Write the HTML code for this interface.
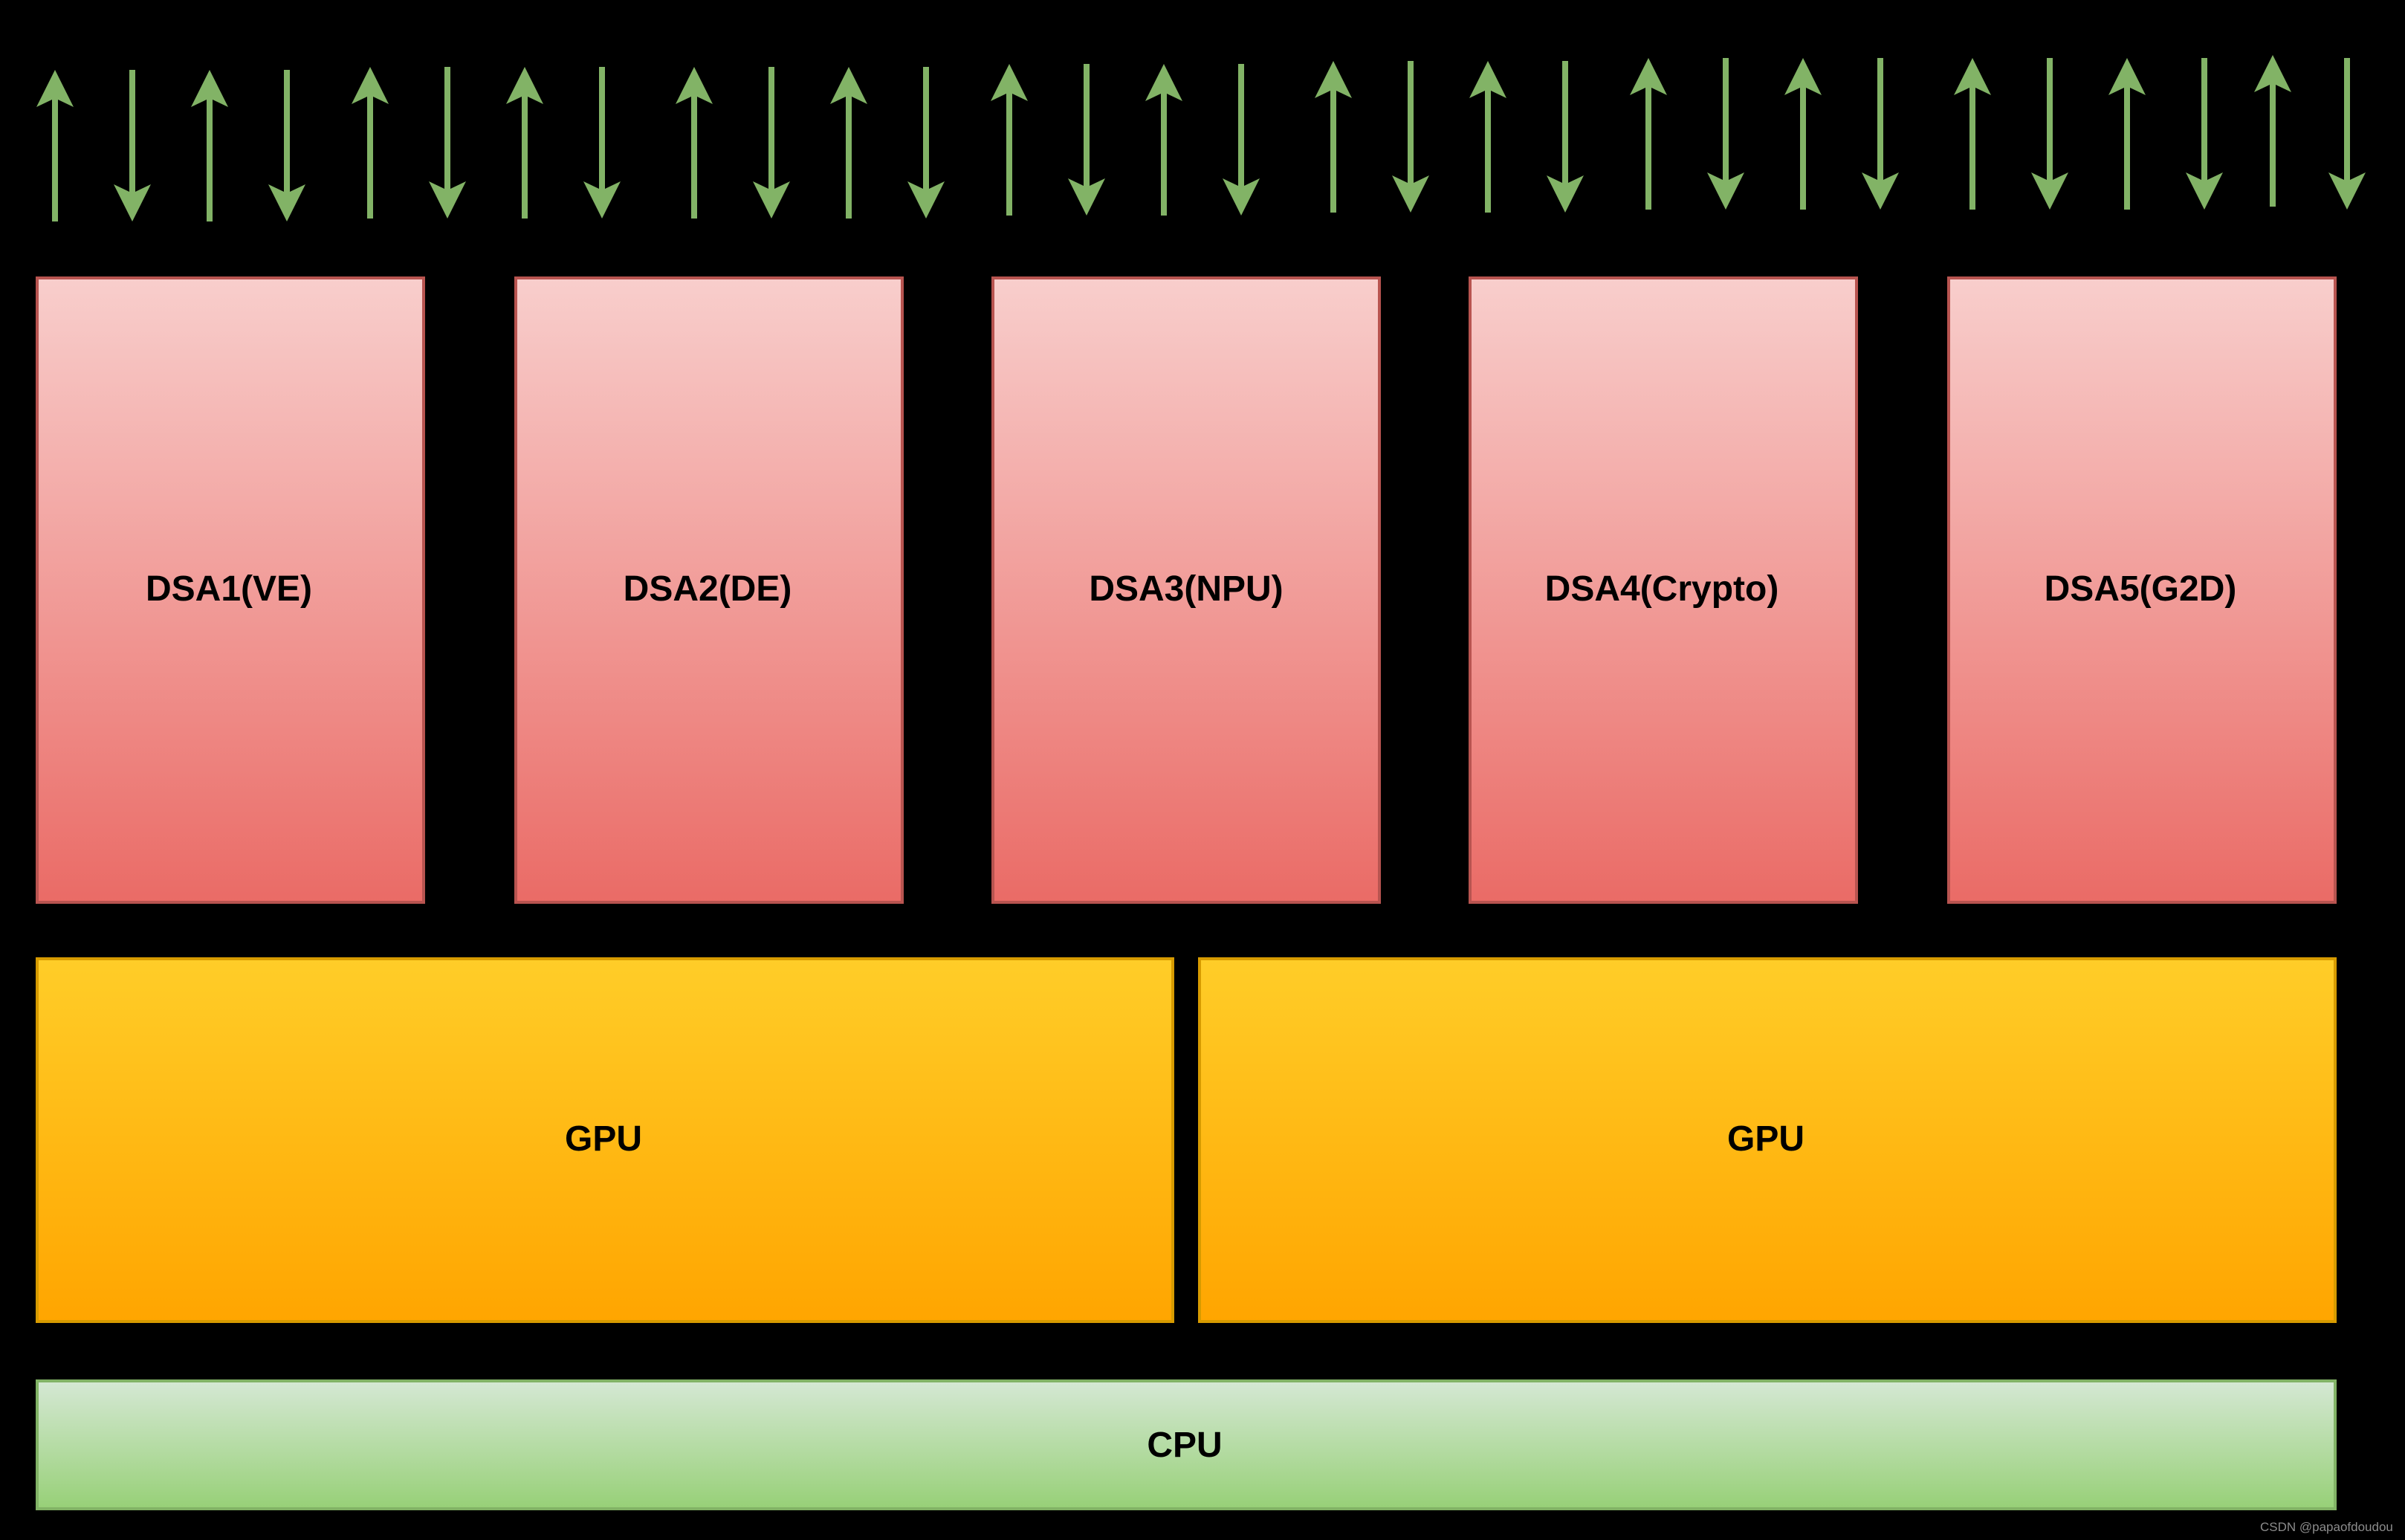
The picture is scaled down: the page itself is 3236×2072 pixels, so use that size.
<!DOCTYPE html>
<html lang="en">
<head>
<meta charset="utf-8">
<title>DSA GPU CPU diagram</title>
<style>
html,body{margin:0;padding:0;background:#000;width:3236px;height:2072px;overflow:hidden}
svg{display:block}
text{font-family:"Liberation Sans",Arial,sans-serif;font-weight:bold;font-size:48px;fill:#000;text-anchor:middle}
text.wm{font-weight:normal;font-size:17px;fill:#8c8c8c;text-anchor:start}
</style>
</head>
<body>
<svg xmlns="http://www.w3.org/2000/svg" width="3236" height="2072" viewBox="0 0 3236 2072">
<defs>
<linearGradient id="r" x1="0" y1="0" x2="0" y2="1"><stop offset="0" stop-color="#f8cecc"/><stop offset="1" stop-color="#ea6b66"/></linearGradient>
<linearGradient id="y" x1="0" y1="0" x2="0" y2="1"><stop offset="0" stop-color="#ffcd28"/><stop offset="1" stop-color="#ffa500"/></linearGradient>
<linearGradient id="g" x1="0" y1="0" x2="0" y2="1"><stop offset="0" stop-color="#d5e8d4"/><stop offset="1" stop-color="#97d077"/></linearGradient>
<path id="u" d="M0 0L25 50L4 40V204H-4V40L-25 50Z" fill="#82b366"/>
<path id="d" d="M0 204L25 154L4 164V0H-4V164L-25 154Z" fill="#82b366"/>
</defs>
<rect width="3236" height="2072" fill="#000"/>

<use href="#u" x="74" y="94"/><use href="#d" x="178" y="94"/><use href="#u" x="282" y="94"/><use href="#d" x="386" y="94"/>
<use href="#u" x="498" y="90"/><use href="#d" x="602" y="90"/><use href="#u" x="706" y="90"/><use href="#d" x="810" y="90"/>
<use href="#u" x="934" y="90"/><use href="#d" x="1038" y="90"/><use href="#u" x="1142" y="90"/><use href="#d" x="1246" y="90"/>
<use href="#u" x="1358" y="86"/><use href="#d" x="1462" y="86"/><use href="#u" x="1566" y="86"/><use href="#d" x="1670" y="86"/>
<use href="#u" x="1794" y="82"/><use href="#d" x="1898" y="82"/><use href="#u" x="2002" y="82"/><use href="#d" x="2106" y="82"/>
<use href="#u" x="2218" y="78"/><use href="#d" x="2322" y="78"/><use href="#u" x="2426" y="78"/><use href="#d" x="2530" y="78"/>
<use href="#u" x="2654" y="78"/><use href="#d" x="2758" y="78"/><use href="#u" x="2862" y="78"/><use href="#d" x="2966" y="78"/>
<use href="#u" x="3058" y="74"/><use href="#d" x="3158" y="78"/>

<g fill="url(#r)" stroke="#b85450" stroke-width="4">
<rect x="50" y="374" width="520" height="840"/>
<rect x="694" y="374" width="520" height="840"/>
<rect x="1336" y="374" width="520" height="840"/>
<rect x="1978" y="374" width="520" height="840"/>
<rect x="2622" y="374" width="520" height="840"/>
</g>
<g fill="url(#y)" stroke="#d79b00" stroke-width="4">
<rect x="50" y="1290" width="1528" height="488"/>
<rect x="1614" y="1290" width="1528" height="488"/>
</g>
<rect x="50" y="1858" width="3092" height="172" fill="url(#g)" stroke="#82b366" stroke-width="4"/>

<text x="308" y="808">DSA1(VE)</text>
<text x="952" y="808">DSA2(DE)</text>
<text x="1596" y="808">DSA3(NPU)</text>
<text x="2236" y="808">DSA4(Crypto)</text>
<text x="2880" y="808">DSA5(G2D)</text>
<text x="812" y="1548">GPU</text>
<text x="2376" y="1548">GPU</text>
<text x="1594" y="1960">CPU</text>
<text class="wm" x="3041" y="2060">CSDN @papaofdoudou</text>
</svg>
</body>
</html>
